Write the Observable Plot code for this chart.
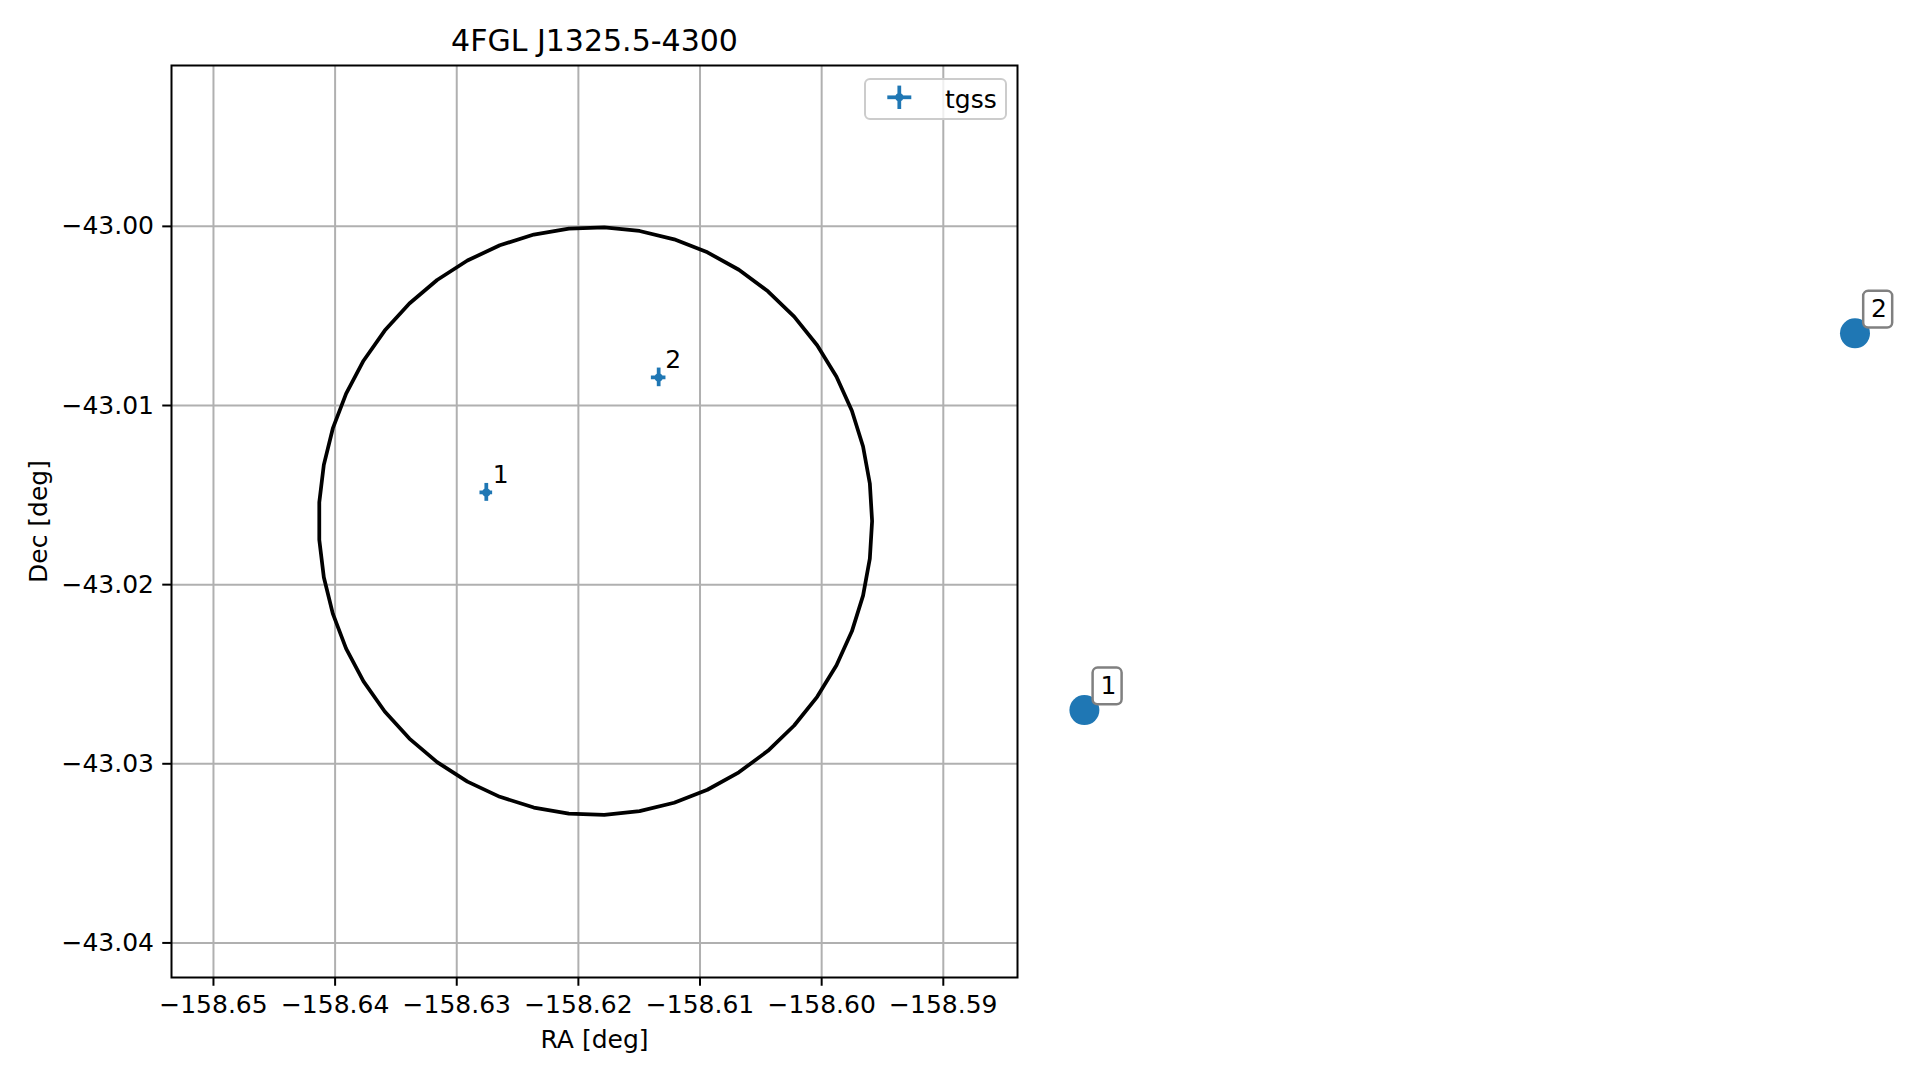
<!DOCTYPE html>
<html>
<head>
<meta charset="utf-8">
<script src="https://cdn.jsdelivr.net/npm/d3@7"></script>
<script src="https://cdn.jsdelivr.net/npm/@observablehq/plot@0.6"></script>
<style>
  html, body { margin: 0; padding: 0; background: #fff; overflow: hidden; }
  #wrap { position: relative; width: 1919px; height: 1080px; font-family: "DejaVu Sans", sans-serif; }
  #legend { position: absolute; left: 864px; top: 78px; width: 139px; height: 38px;
            border: 2px solid #cccccc; border-radius: 6px; background: rgba(255,255,255,0.8); }
  #legend svg { position: absolute; left: 0; top: 0; overflow: visible; }
</style>
</head>
<body>
<div id="wrap"></div>
<script>
// ---- text ----
const title = "4FGL J1325.5-4300";
const xLabel = "RA [deg]";
const yLabel = "Dec [deg]";
const legendLabel = "tgss";

// ---- axes ----
const xTicks = [-158.65, -158.64, -158.63, -158.62, -158.61, -158.60, -158.59];
const yTicks = [-43.00, -43.01, -43.02, -43.03, -43.04];
const xDomain = [-158.65345, -158.5839];
const yDomain = [-43.04193, -42.99102];

// ---- tgss sources (with error bars) ----
const srcIds = ["1", "2"];
const srcRA = [-158.62757, -158.61340];
const srcDec = [-43.01485, -43.00843];
const srcRAErr = [0.00052, 0.00060];
const srcDecErr = [0.00050, 0.00052];

// ---- large numbered markers ----
const markIds = ["1", "2"];
const markRA = [-158.57840, -158.51505];
const markDec = [-43.02700, -43.00597];

// ---- error circle (center, radii, vertex count) ----
const circleCenterRA = -158.61860;
const circleCenterDec = -43.01645;
const circleRadiusRA = 0.022747;
const circleRadiusDec = 0.016404;
const circleVertices = 50;

const blue = "#1f77b4";

const srcData = srcIds.map((id, i) => ({id, ra: srcRA[i], dec: srcDec[i], era: srcRAErr[i], edec: srcDecErr[i]}));
const markData = markIds.map((id, i) => ({id, ra: markRA[i], dec: markDec[i]}));
const circleData = d3.range(circleVertices).map(k => {
  const t = 2 * Math.PI * k / (circleVertices - 1);
  return {ra: circleCenterRA + circleRadiusRA * Math.cos(t), dec: circleCenterDec + circleRadiusDec * Math.sin(t)};
});

const fmt = d3.format(".2f");

const chart = Plot.plot({
  width: 1919,
  height: 1080,
  marginLeft: 171,
  marginRight: 902,
  marginTop: 65,
  marginBottom: 103,
  style: {fontFamily: "DejaVu Sans", fontSize: "25px", background: "white", overflow: "visible"},
  x: {domain: xDomain, label: null},
  y: {domain: yDomain, label: null},
  marks: [
    Plot.gridX({ticks: xTicks, stroke: "#b0b0b0", strokeOpacity: 1, strokeWidth: 2}),
    Plot.gridY({ticks: yTicks, stroke: "#b0b0b0", strokeOpacity: 1, strokeWidth: 2}),
    Plot.line(circleData, {x: "ra", y: "dec", stroke: "black", strokeWidth: 3.75, curve: "linear"}),
    Plot.ruleX(srcData, {x: "ra", y1: d => d.dec - d.edec, y2: d => d.dec + d.edec, stroke: blue, strokeWidth: 3.75}),
    Plot.ruleY(srcData, {y: "dec", x1: d => d.ra - d.era, x2: d => d.ra + d.era, stroke: blue, strokeWidth: 3.75}),
    Plot.dot(srcData, {x: "ra", y: "dec", r: 4, fill: blue}),
    Plot.text(srcData, {x: "ra", y: "dec", text: "id", dx: 6.5, dy: -9.7, textAnchor: "start", lineAnchor: "bottom", fontSize: 25, fill: "black"}),
    Plot.dot(markData, {x: "ra", y: "dec", r: 15, fill: blue}),
    Plot.rect(markData, {x1: "ra", x2: "ra", y1: "dec", y2: "dec",
      insetLeft: 8.7, insetRight: -37.7, insetTop: -42, insetBottom: 5.3,
      fill: "white", stroke: "#808080", strokeWidth: 2.5, rx: 5}),
    Plot.text(markData, {x: "ra", y: "dec", text: "id", dx: 24, dy: -16.3, textAnchor: "middle", lineAnchor: "bottom", fontSize: 25, fill: "black"}),
    Plot.frame({stroke: "black", strokeWidth: 2}),
    Plot.axisX({ticks: xTicks, tickFormat: fmt, tickSize: 8.75, tickPadding: 8.75, fontSize: 25, strokeWidth: 2, label: null, anchor: "bottom"}),
    Plot.axisY({ticks: yTicks, tickFormat: fmt, tickSize: 8.75, tickPadding: 8.75, fontSize: 25, strokeWidth: 2, label: null, anchor: "left"}),
    Plot.text([title], {text: d => d, frameAnchor: "top", dy: -15, textAnchor: "middle", lineAnchor: "bottom", fontSize: 30, fill: "black"}),
    Plot.text([xLabel], {text: d => d, frameAnchor: "bottom", dy: 62, textAnchor: "middle", lineAnchor: "middle", fontSize: 25, fill: "black"}),
    Plot.text([yLabel], {text: d => d, frameAnchor: "left", dx: -133, rotate: -90, textAnchor: "middle", lineAnchor: "middle", fontSize: 25, fill: "black"})
  ]
});

const wrap = document.getElementById("wrap");
wrap.appendChild(chart);

// legend
const legend = document.createElement("div");
legend.id = "legend";
const ns = "http://www.w3.org/2000/svg";
const lsvg = document.createElementNS(ns, "svg");
lsvg.setAttribute("width", 139);
lsvg.setAttribute("height", 38);
const cx = 33.3, cy = 17.3;
const mk = (tag, attrs) => { const e = document.createElementNS(ns, tag); for (const k in attrs) e.setAttribute(k, attrs[k]); lsvg.appendChild(e); return e; };
mk("line", {x1: cx - 12, x2: cx + 12, y1: cy, y2: cy, stroke: blue, "stroke-width": 3.75});
mk("line", {x1: cx, x2: cx, y1: cy - 11.7, y2: cy + 11.7, stroke: blue, "stroke-width": 3.75});
mk("circle", {cx, cy, r: 4, fill: blue});
const t = mk("text", {x: 79, y: 28, "font-family": "DejaVu Sans", "font-size": 25, fill: "black"});
t.textContent = legendLabel;
legend.appendChild(lsvg);
wrap.appendChild(legend);
</script>
</body>
</html>
